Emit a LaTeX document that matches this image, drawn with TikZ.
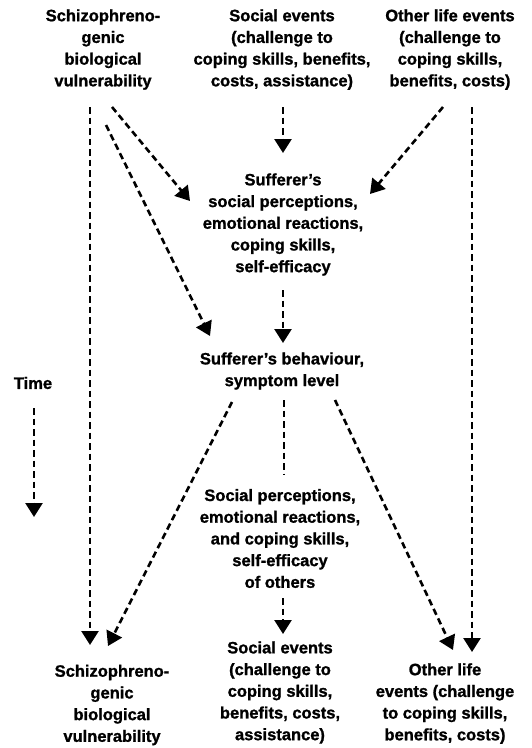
\documentclass[tikz,border=0pt]{standalone}
\usepackage{fontspec}
\setmainfont{Liberation Sans}[BoldFeatures={FakeBold=1.2}]
\usetikzlibrary{arrows.meta}
\begin{document}
\begin{tikzpicture}[x=1pt,y=-1pt,
  lbl/.style={align=center,inner sep=0pt,font=\fontsize{16.5}{21.7}\selectfont\bfseries},
  arr/.style={line width=2.6pt,dash pattern=on 6.5pt off 4pt,-{Triangle[length=14pt,width=17pt]}},
  ln/.style={line width=2.6pt,dash pattern=on 6.5pt off 4pt}]
\useasboundingbox (0,0) rectangle (531,748);
\node[lbl] (tl) at (103,49.5) {Schizophreno-\\genic\\biological\\vulnerability};
\node[lbl] (tm) at (282,49.5) {Social events\\(challenge to\\coping skills, benefits,\\costs, assistance)};
\node[lbl] (tr) at (450,49.5) {Other life events\\(challenge to\\coping skills,\\benefits, costs)};
\node[lbl] (suf) at (283,224.5) {Sufferer's\\social perceptions,\\emotional reactions,\\coping skills,\\self-efficacy};
\node[lbl] (beh) at (282,371) {Sufferer's behaviour,\\symptom level};
\node[lbl] (time) at (33,383) {Time};
\node[lbl] (oth) at (280,538.5) {Social perceptions,\\emotional reactions,\\and coping skills,\\self-efficacy\\of others};
\node[lbl] (bl) at (112,705) {Schizophreno-\\genic\\biological\\vulnerability};
\node[lbl] (bm) at (280,692.5) {Social events\\(challenge to\\coping skills,\\benefits, costs,\\assistance)};
\node[lbl] (br) at (445,703.5) {Other life\\events (challenge\\to coping skills,\\benefits, costs)};
% top arrows
\draw[arr] ([shift={(-13,57.5)}]tl.center) -- ([shift={(-22,-60)}]bl.center);
\draw[arr] ([shift={(9,57.5)}]tl.center) -- ([shift={(-93,-23.5)}]suf.center);
\draw[arr] ([shift={(3,75.5)}]tl.center) -- ([shift={(-72,-35)}]beh.center);
\draw[arr] ([shift={(1,57.5)}]tm.center) -- ([shift={(0,-71.5)}]suf.center);
\draw[arr] ([shift={(-7,57.5)}]tr.center) -- ([shift={(87,-30.5)}]suf.center);
\draw[arr] ([shift={(22,57.5)}]tr.center) -- ([shift={(27,-51.5)}]br.center);
\draw[arr] ([shift={(0,65.5)}]suf.center) -- ([shift={(1,-28)}]beh.center);
\draw[arr] ([shift={(1,25)}]time.center) -- ([shift={(1,134)}]time.center);
\draw[arr] ([shift={(-50,31)}]beh.center) -- ([shift={(-4,-59)}]bl.center);
\draw[ln] ([shift={(2,29)}]beh.center) -- ([shift={(4,-63.5)}]oth.center);
\draw[arr] ([shift={(53,29)}]beh.center) -- ([shift={(8,-53.5)}]br.center);
\draw[arr] ([shift={(3,59.5)}]oth.center) -- ([shift={(3,-58.5)}]bm.center);
\end{tikzpicture}
\end{document}
